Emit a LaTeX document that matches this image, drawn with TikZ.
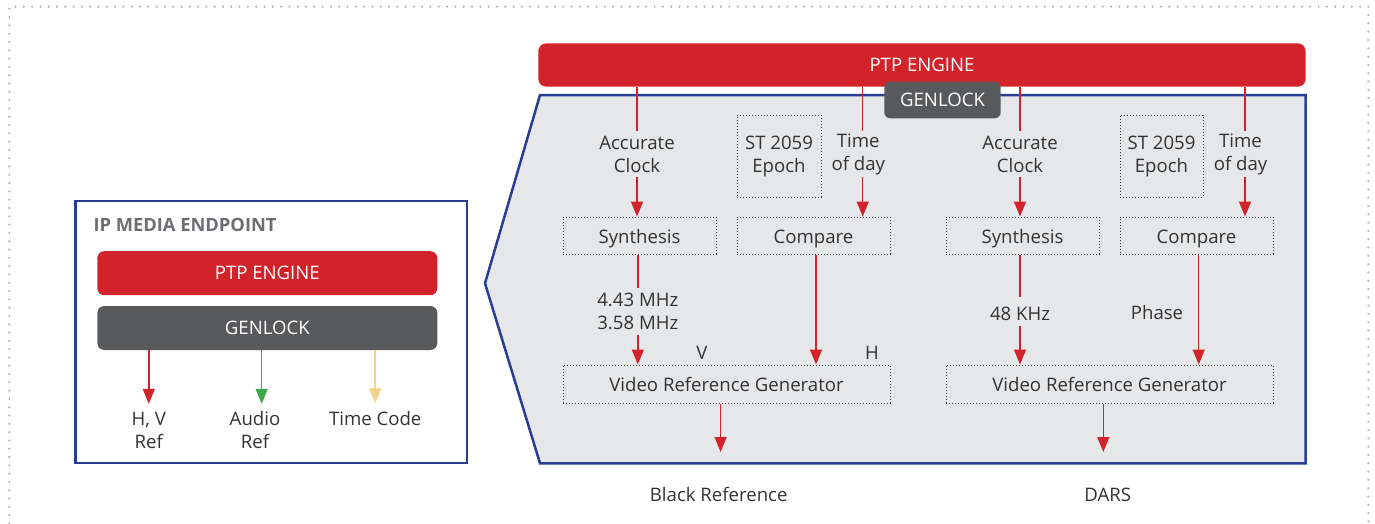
\documentclass[tikz,border=0pt]{standalone}
\usepackage{fontspec}
\setmainfont{Open Sans}
\usepackage{tikz}
\usetikzlibrary{arrows.meta}

\definecolor{ptpred}{HTML}{D2232A}
\definecolor{gengray}{HTML}{58595B}
\definecolor{panelblue}{HTML}{263F92}
\definecolor{panelfill}{HTML}{E6E7E9}
\definecolor{txtc}{HTML}{333333}
\definecolor{headc}{HTML}{6D6E71}
\definecolor{audiogreen}{HTML}{3AAA48}
\definecolor{tctan}{HTML}{F2D28C}

\tikzset{
	lbl/.style={font=\fontsize{18.6}{23}\selectfont, text=txtc, align=center, inner sep=0pt},
	strut/.style={execute at begin node={\rule{0pt}{#1}}},
	dotbox/.style={lbl, draw=txtc, line width=1pt, dash pattern=on 1pt off 2pt},
	bar/.style={font=\fontsize{18.6}{23}\selectfont, text=white, inner sep=0pt},
	wire/.style={draw=ptpred, line width=1.5pt},
	redarr/.style={wire, -{Triangle[width=12pt,length=15pt]}},
}

\begin{document}
\begin{tikzpicture}[x=1pt,y=-1pt]
		\useasboundingbox (0,0) rectangle (1375,523);
		% outer frame
		\draw[gray!70, line width=2.2pt, line cap=round, dash pattern=on 0pt off 8.3pt]
			(9.3,540) -- (9.3,6.7) -- (1368.3,6.7) -- (1368.3,540);
	
		\begin{scope}
			\draw[panelblue, line width=2.5pt] (75.7,201) rectangle (467,463);
			\node[anchor=west, font=\bfseries\fontsize{18.3}{22}\selectfont, text=headc, inner sep=0pt] (head) at (93.3,225) {IP MEDIA ENDPOINT};
			
			\node[bar, fill=ptpred, rounded corners=7pt, minimum width=340pt, minimum height=44pt] (ptpL) at (267.3,273.2) {PTP ENGINE};
			\node[bar, fill=gengray, rounded corners=7pt, minimum width=340pt, minimum height=44pt] (genL) at (267.3,328) {GENLOCK};
			
			\node[lbl, minimum height=52pt] (hv) at (148.8,430) {H, V\\Ref};
			\node[lbl, minimum height=52pt] (au) at (255,430) {Audio\\Ref};
			\node[lbl, minimum height=30pt] (tc) at (375.2,418.5) {Time Code};
			
			\draw[redarr] (genL.south -| hv.north) -- (hv.north);
			\draw[redarr, draw=audiogreen] ([xshift=6.7pt]au.north |- genL.south) -- ([xshift=6.7pt]au.north);
			\draw[redarr, draw=tctan] (genL.south -| tc.north) -- (tc.north);
		\end{scope}
	
		\begin{scope}
			\draw[panelblue, fill=panelfill, line width=2.5pt] (540,95) -- (1305.7,95) -- (1305.7,463.3) -- (540,463.3) -- (485,283.3) -- cycle;
			\node[bar, fill=ptpred, rounded corners=8pt, minimum width=767.4pt, minimum height=43.4pt] (ptpR) at (922,65) {PTP ENGINE};
			\node[bar, fill=gengray, rounded corners=6pt, minimum width=116.4pt, minimum height=36.6pt] (genR) at (942.5,100) {GENLOCK};
			
			% black reference side
			\node[lbl, minimum height=46pt] (acc1) at (637,154) {Accurate\\Clock};
			\node[dotbox, strut=25pt, minimum width=84pt, minimum height=82pt] (epoch1) at (779,156) {ST 2059\\Epoch};
			\node[lbl, strut=18pt, minimum height=46pt] (tod1) at (858.3,154) {Time\\of day};
			\node[dotbox, strut=20pt, minimum width=153pt, minimum height=37pt] (syn1) at (639.5,235.5) {Synthesis};
			\node[dotbox, strut=20pt, minimum width=153pt, minimum height=37pt] (cmp1) at (813.5,235.5) {Compare};
			\node[lbl, minimum height=47pt] (frq1) at (637.8,311.5) {4.43 MHz\\3.58 MHz};
			\node[dotbox, strut=16pt, minimum width=327pt, minimum height=38pt] (vrg1) at (726.5,384) {Video Reference Generator};
			\node[lbl] (v1) at (702,352.7) {V};
			\node[lbl] (h1) at (872,352.7) {H};
			\node[lbl] (blk) at (718.7,494) {Black Reference};
			\coordinate (blkin) at (720.6,452);
			
			\draw[wire] (ptpR.south -| acc1.north) -- (acc1.north);
			\draw[redarr] (acc1.south) -- (acc1.south |- syn1.north);
			\draw[wire] (ptpR.south -| 862.7,0) -- ([xshift=4.4pt]tod1.north);
			\draw[redarr] ([xshift=4.4pt]tod1.south) -- ([xshift=4.4pt]tod1.south |- cmp1.north);
			\draw[wire] (syn1.south -| frq1.north) -- (frq1.north);
			\draw[redarr] (frq1.south) -- (frq1.south |- vrg1.north);
			\draw[redarr] (cmp1.south -| 816,0) -- (vrg1.north -| 816,0);
			\draw[redarr] (vrg1.south -| blkin) -- (blkin);
			
			% DARS side
			\node[lbl, minimum height=46pt] (acc2) at (1020,154) {Accurate\\Clock};
			\node[dotbox, strut=25pt, minimum width=83pt, minimum height=82pt] (epoch2) at (1161.5,156) {ST 2059\\Epoch};
			\node[lbl, strut=18pt, minimum height=46pt] (tod2) at (1240.5,154) {Time\\of day};
			\node[dotbox, strut=20pt, minimum width=153pt, minimum height=37pt] (syn2) at (1022.5,235.5) {Synthesis};
			\node[dotbox, strut=20pt, minimum width=153pt, minimum height=37pt] (cmp2) at (1196.5,235.5) {Compare};
			\node[lbl, strut=19pt, minimum height=29pt] (frq2) at (1020,311.5) {48 KHz};
			\node[lbl] (ph2) at (1157,313) {Phase};
			\node[dotbox, strut=16pt, minimum width=327pt, minimum height=38pt] (vrg2) at (1109.5,384) {Video Reference Generator};
			\node[lbl] (dars) at (1107.7,494.5) {DARS};
			\coordinate (darsin) at (1103.3,452);
			
			\draw[wire] (ptpR.south -| acc2.north) -- (acc2.north);
			\draw[redarr] (acc2.south) -- (acc2.south |- syn2.north);
			\draw[wire] (ptpR.south -| 1245,0) -- ([xshift=4.5pt]tod2.north);
			\draw[redarr] ([xshift=4.5pt]tod2.south) -- ([xshift=4.5pt]tod2.south |- cmp2.north);
			\draw[wire] (syn2.south -| frq2.north) -- (frq2.north);
			\draw[redarr] (frq2.south) -- (frq2.south |- vrg2.north);
			\draw[redarr] (cmp2.south -| 1198.7,0) -- (vrg2.north -| 1198.7,0);
			\draw[redarr] (vrg2.south -| darsin) -- (darsin);
		\end{scope}
	\end{tikzpicture}
\end{document}
